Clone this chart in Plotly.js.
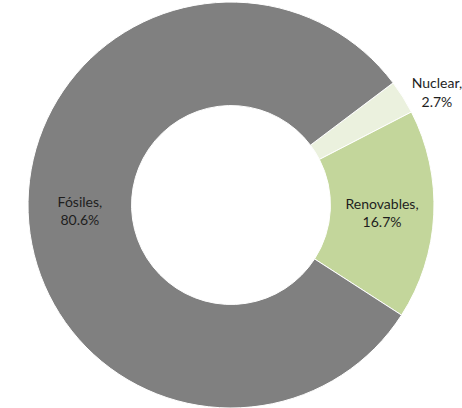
<!DOCTYPE html>
<html>
<head>
<meta charset="utf-8">
<script src="https://cdn.plot.ly/plotly-3.0.1.min.js"></script>
<style>html,body{margin:0;padding:0;background:#fff;}#chart{width:462px;height:408px;}</style>
</head>
<body>
<div id="chart"></div>
<script>
const labels = ["Nuclear", "Renovables", "Fósiles"];
const values = [2.7, 16.7, 80.6];
const colors = ["#EBF1DE", "#C3D69B", "#808080"];
const positions = ["outside", "inside", "inside"];

const trace = {
  type: "pie",
  labels: labels,
  values: values,
  sort: false,
  direction: "clockwise",
  rotation: 53,
  hole: 0.49,
  domain: { x: [0, 1], y: [0, 0.995] },
  marker: { colors: colors, line: { color: "#ffffff", width: 1 } },
  texttemplate: "%{label},<br>%{percent:.1%}",
  textposition: positions,
  insidetextorientation: "horizontal",
  textfont: { family: "Lato, 'Open Sans', sans-serif", size: 14, color: "#1e1e1e" },
  outsidetextfont: { family: "Lato, 'Open Sans', sans-serif", size: 14, color: "#1e1e1e" },
  showlegend: false,
  hoverinfo: "none"
};

Plotly.newPlot("chart", [trace], {
  width: 462,
  height: 408,
  margin: { l: 0, r: 0, t: 0, b: 0 },
  paper_bgcolor: "#ffffff",
  showlegend: false
}, { staticPlot: true });
</script>
</body>
</html>
